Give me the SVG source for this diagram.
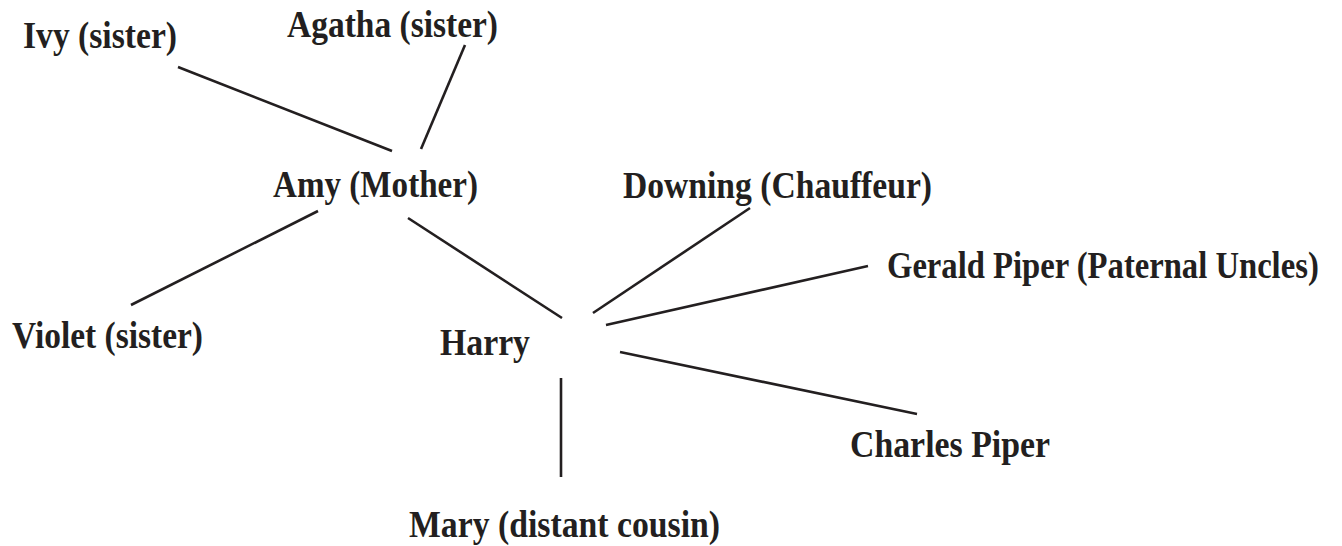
<svg xmlns="http://www.w3.org/2000/svg" width="1342" height="546" viewBox="0 0 1342 546">
<style>
.lbl{font-family:"Liberation Serif","Times New Roman",serif;font-weight:bold;font-size:38px;fill:#231f20;}
.edge{stroke:#231f20;stroke-width:2.6;stroke-linecap:butt;fill:none;}
</style>
<rect width="1342" height="546" fill="#ffffff"/>
<g id="connectors">
<line class="edge" x1="178" y1="67" x2="392" y2="151"/>
<line class="edge" x1="465" y1="45" x2="421" y2="149"/>
<line class="edge" x1="318" y1="211" x2="131" y2="305"/>
<line class="edge" x1="408" y1="218" x2="562" y2="318"/>
<line class="edge" x1="750" y1="208" x2="593" y2="313"/>
<line class="edge" x1="868" y1="266" x2="606" y2="325"/>
<line class="edge" x1="620" y1="352" x2="917" y2="414"/>
<line class="edge" x1="561" y1="378" x2="561" y2="477"/>
</g>
<g id="ivy"><text class="lbl" x="23" y="48" textLength="154" lengthAdjust="spacingAndGlyphs">Ivy (sister)</text></g>
<g id="agatha"><text class="lbl" x="287" y="37" textLength="211" lengthAdjust="spacingAndGlyphs">Agatha (sister)</text></g>
<g id="amy"><text class="lbl" x="273" y="197" textLength="205" lengthAdjust="spacingAndGlyphs">Amy (Mother)</text></g>
<g id="downing"><text class="lbl" x="623" y="198" textLength="309" lengthAdjust="spacingAndGlyphs">Downing (Chauffeur)</text></g>
<g id="gerald" transform="translate(887,278) scale(0.84,1)"><text class="lbl" x="0" y="0" textLength="514" lengthAdjust="spacingAndGlyphs">Gerald Piper (Paternal Uncles)</text></g>
<g id="violet"><text class="lbl" x="12" y="348" textLength="191" lengthAdjust="spacingAndGlyphs">Violet (sister)</text></g>
<g id="harry"><text class="lbl" x="440" y="355" textLength="90" lengthAdjust="spacingAndGlyphs">Harry</text></g>
<g id="charles"><text class="lbl" x="850" y="457" textLength="200" lengthAdjust="spacingAndGlyphs">Charles Piper</text></g>
<g id="mary"><text class="lbl" x="409" y="537" textLength="311" lengthAdjust="spacingAndGlyphs">Mary (distant cousin)</text></g>
</svg>
